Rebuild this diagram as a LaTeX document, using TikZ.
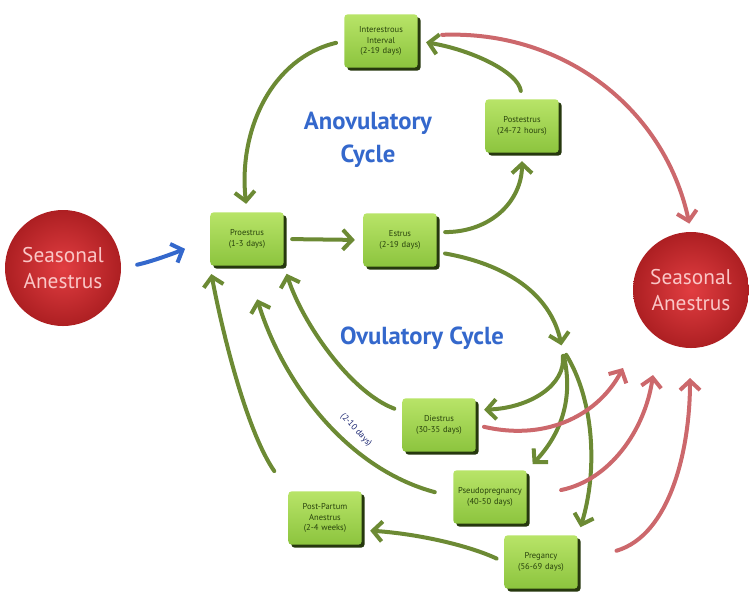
\documentclass[tikz,border=0pt]{standalone}
\usepackage{fontspec}
\setmainfont{PT Sans}
\usetikzlibrary{arrows.meta,shadows}

\definecolor{boxtop}{RGB}{184,228,104}
\definecolor{boxfill}{RGB}{140,196,62}
\definecolor{boxshadow}{RGB}{38,56,14}
\definecolor{boxtext}{RGB}{40,66,12}
\definecolor{arrowgreen}{RGB}{108,138,52}
\definecolor{arrowred}{RGB}{204,104,108}
\definecolor{cycleblue}{RGB}{52,104,204}
\definecolor{ballred}{RGB}{222,40,44}
\definecolor{balltext}{RGB}{250,198,198}

\tikzset{every picture/.style={line width=0.75pt}}

\begin{document}
\begin{tikzpicture}[x=0.75pt,y=0.75pt,yscale=-1,xscale=1,
  phase/.style={rounded corners=2.5pt,top color=boxtop,bottom color=boxfill,
    minimum width=55pt,minimum height=40pt,text width=54pt,align=center,
    inner sep=0.5pt,text=boxtext,font=\fontsize{6.4}{8}\selectfont,
    drop shadow={shadow xshift=2.2pt,shadow yshift=-2.2pt,fill=boxshadow,opacity=1}},
  season/.style={circle,minimum size=87pt,inner color=ballred!90!white,
    outer color=ballred!78!black,text=balltext,align=center,
    font=\fontsize{16}{19}\selectfont},
  garrow/.style={draw=arrowgreen,line width=3pt,line cap=round,line join=round,
    -{Straight Barb[length=7pt,width=15pt]},shorten <=6pt,shorten >=6pt},
  rarrow/.style={garrow,draw=arrowred},
  barrow/.style={garrow,draw=cycleblue},
  cyclelabel/.style={text=cycleblue,align=center,font=\bfseries\fontsize{18.5}{25}\selectfont},
  gaplabel/.style={text=boxshadow!60!blue,font=\fontsize{6.5}{7}\selectfont,inner sep=0.75pt}
]
\useasboundingbox (0,0) rectangle (749,593);

%Flowchart: Process [phases]
\node[phase] (intv) at (381,41) {Interestrous\\Interval\\(2-19 days)};
\node[phase] (post) at (522,126) {Postestrus\\(24-72 hours)};
\node[phase] (pro) at (247,239) {Proestrus\\(1-3 days)};
\node[phase] (est) at (400,240) {Estrus\\(2-19 days)};
\node[phase] (die) at (439,425) {Diestrus\\(30-35 days)};
\node[phase] (pseu) at (490,497) {Pseudopregnancy\\(40-50 days)};
\node[phase] (ppa) at (325,518) {Post-Partum\\Anestrus\\(2-4 weeks)};
\node[phase] (preg) at (541,562) {Pregancy\\(56-69 days)};

%Shape: Circle [seasonal anestrus]
\node[season] (sal) at (63,268) {Seasonal\\Anestrus};
\node[season] (sar) at (691,290) {Seasonal\\Anestrus};

% Text Node
\node[cyclelabel] (anov) at (368,140) {Anovulatory\\Cycle};
% Text Node
\node[cyclelabel] (ovul) at (422,338) {Ovulatory Cycle};
% Text Node
\node[gaplabel,rotate=-47] (gap) at (356,430) {(2-10 days)};

%Free ends
\coordinate (fork) at (562,348);
\coordinate (tipa) at (623,368);
\coordinate (tipb) at (653,375);
\coordinate (tipc) at (690,378);

%Straight Lines [anovulatory]
\draw[garrow] (intv.west) .. controls (272,58) and (238,130) .. (pro.north);
\draw[garrow] (pro.east) -- (est.west);
\draw[garrow] (est.12) .. controls (492,232) and (522,200) .. (post.south);
\draw[garrow] (post.north) .. controls (518,72) and (472,50) .. (intv.east);
%Straight Lines [ovulatory]
\draw[garrow,shorten >=2pt] (est.-18) .. controls (515,266) and (552,300) .. (fork);
\draw[garrow] (fork) .. controls (566,385) and (530,408) .. (die.22);
\draw[garrow] (fork) .. controls (574,400) and (560,435) .. (pseu.north east);
\draw[garrow] (fork) .. controls (594,400) and (598,470) .. (preg.north east);
\draw[garrow] (die.160) .. controls (350,392) and (302,322) .. (pro.south east);
\draw[garrow,shorten <=14pt,shorten >=26pt] (pseu.west) .. controls (345,468) and (282,380) .. (pro.south);
\draw[garrow,shorten <=18pt] (ppa.north west) .. controls (246,430) and (222,330) .. (pro.south west);
\draw[garrow] (preg.west) .. controls (470,546) and (420,534) .. (ppa.-18);
%Straight Lines [to anestrus]
\draw[rarrow,shorten <=18pt] (intv.8) .. controls (565,30) and (665,110) .. (sar.north);
\draw[rarrow,shorten >=0pt] (die.east) .. controls (550,442) and (600,412) .. (tipa);
\draw[rarrow,shorten <=26pt,shorten >=0pt] (pseu.east) .. controls (610,480) and (645,430) .. (tipb);
\draw[rarrow,shorten <=30pt,shorten >=0pt] (preg.east) .. controls (670,535) and (690,450) .. (tipc);
\draw[barrow,shorten <=12pt,shorten >=20pt] (sal.east) .. controls (150,262) and (172,254) .. (pro.west);

\end{tikzpicture}
\end{document}
